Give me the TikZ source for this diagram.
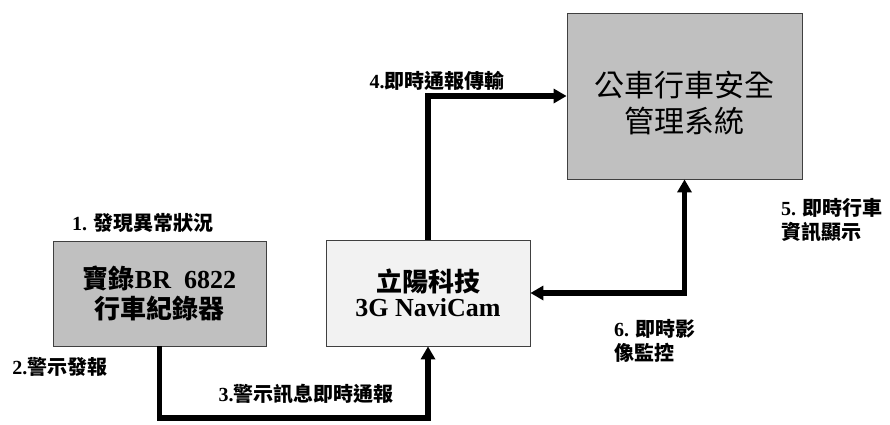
\documentclass[tikz,border=0pt]{standalone}
\usepackage{fontspec}
\setmainfont{Liberation Serif}
\newfontfamily\cjk{Noto Sans CJK TC}
\usetikzlibrary{arrows.meta}
\definecolor{boxgray}{HTML}{C0C0C0}
\definecolor{boxlight}{HTML}{F2F2F2}
\definecolor{boxline}{HTML}{404040}
\newcommand\zh[1]{{\cjk #1}}
\begin{document}
\begin{tikzpicture}[x=1pt,y=-1pt,
  box/.style={draw=boxline, line width=0.8pt, align=center, inner sep=0pt},
  boxtxt/.style={font=\fontsize{26}{30}\selectfont\bfseries},
  lbl/.style={font=\fontsize{20}{24}\selectfont\bfseries, inner sep=0pt, align=left},
  conn/.style={line width=5.5pt, -{Triangle[length=13pt,width=14pt]}},
  conn2/.style={line width=5.5pt, {Triangle[length=13pt,width=14pt]}-{Triangle[length=13pt,width=14pt]}}]
\useasboundingbox (0,0) rectangle (890,424);
\node[box, fill=boxgray, minimum width=235pt, minimum height=166pt] (big) at (684.5,96) {};
\node[align=center, inner sep=0pt, font=\fontsize{30}{36}\selectfont] (bigtxt) at (684.5,103)
  {\zh{公車行車安全}\\\zh{管理系統}};
\node[box, boxtxt, fill=boxgray, minimum width=213pt, minimum height=105pt] (rec) at (159.5,293.5)
  {\zh{寶錄}BR\ \ 6822\\\zh{行車紀錄器}};
\node[box, boxtxt, fill=boxlight, minimum width=204pt, minimum height=106pt] (cam) at (428,293)
  {\zh{立陽科技}\\[-5pt]3G NaviCam};
\node[lbl] (l1) at (143,223) {1. \zh{發現異常狀況}};
\node[lbl] (l2) at (60,367) {2.\zh{警示發報}};
\node[lbl] (l3) at (306,394) {3.\zh{警示訊息即時通報}};
\node[lbl] (l4) at (437,81) {4.\zh{即時通報傳輸}};
\node[lbl, anchor=west] (l5) at (781,220) {5. \zh{即時行車}\\\zh{資訊顯示}};
\node[lbl, anchor=west] (l6) at (614,341) {6. \zh{即時影}\\\zh{像監控}};
\coordinate (b3) at (159.5,418);
\draw[conn] (cam.north) |- (big.west);
\draw[conn] (rec.south) -- (b3) -| (cam.south);
\draw[conn2] (cam.east) -| (big.south);
\end{tikzpicture}
\end{document}
